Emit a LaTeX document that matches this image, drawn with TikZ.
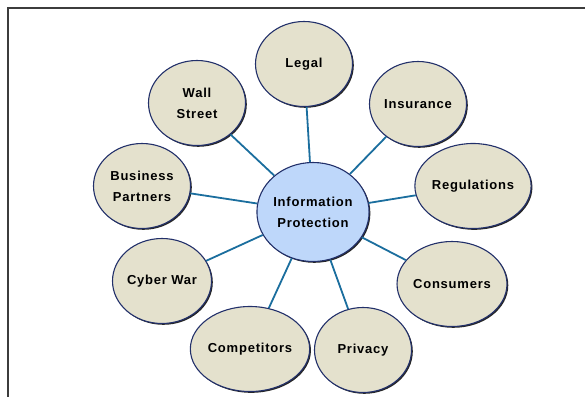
\documentclass[tikz,border=0pt]{standalone}
\usepackage{fontspec}
\setmainfont{Liberation Sans}[LetterSpace=6]
\usetikzlibrary{shapes.geometric,shadows}
\definecolor{beige}{RGB}{228,225,205}
\definecolor{infoblue}{RGB}{190,215,250}
\definecolor{rim}{RGB}{34,48,106}
\definecolor{link}{RGB}{27,110,158}
\definecolor{framegray}{RGB}{60,60,60}
\tikzset{
  bubble/.style={ellipse, draw=rim, line width=1.1pt, fill=beige,
    minimum width=97pt, minimum height=85pt, inner sep=0pt, align=center,
    font=\fontsize{13}{21}\selectfont\bfseries, text=black,
    drop shadow={shadow xshift=1.3pt, shadow yshift=-1.3pt, fill=black!85, opacity=1}},
  hub/.style={bubble, fill=infoblue, minimum width=108pt, minimum height=99pt},
  spoke/.style={draw=link, line width=1.8pt}
}
\begin{document}
\begin{tikzpicture}[x=1pt,y=-1pt]
\useasboundingbox (0,0) rectangle (585,396);
\draw[framegray, line width=2pt] (8,420) -- (8,8) -- (620,8);
\node[hub] (c) at (313,212) {Information\\Protection};
\node[bubble] (legal) at (304,64) {Legal};
\node[bubble] (wall) at (197,103) {Wall\\Street};
\node[bubble] (ins) at (418,104) {Insurance};
\node[bubble] (bus) at (142,186) {Business\\Partners};
\node[bubble] (reg) at (473,186) {Regulations};
\node[bubble] (cyber) at (162,281) {Cyber War};
\node[bubble] (cons) at (452,284) {Consumers};
\node[bubble] (comp) at (250,349) {Competitors};
\node[bubble] (priv) at (363,350) {Privacy};
\foreach \n in {legal,wall,ins,bus,reg,cyber,cons,comp,priv}
  \draw[spoke] (c) -- (\n);
\end{tikzpicture}
\end{document}
